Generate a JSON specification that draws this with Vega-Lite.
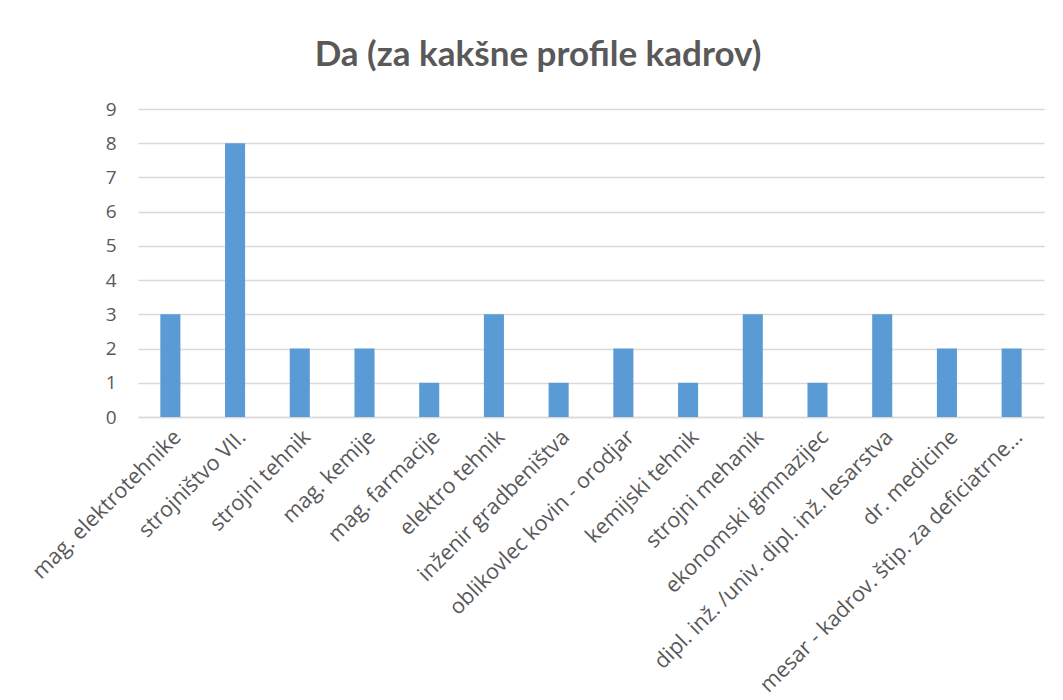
{
  "$schema": "https://vega.github.io/schema/vega-lite/v6.json",
  "autosize": {"type": "none"},
  "width": 906,
  "height": 308,
  "padding": {"left": 138, "top": 109, "right": 19, "bottom": 283},
  "background": "white",
  "title": {
    "text": "Da (za kakšne profile kadrov)",
    "font": "Lato",
    "fontSize": 35,
    "fontWeight": "bold",
    "color": "#595959",
    "anchor": "middle",
    "dx": -53,
    "offset": 27
  },
  "data": {
    "values": [
      {"profil": "mag. elektrotehnike", "n": 3},
      {"profil": "strojništvo VII.", "n": 8},
      {"profil": "strojni tehnik", "n": 2},
      {"profil": "mag. kemije", "n": 2},
      {"profil": "mag. farmacije", "n": 1},
      {"profil": "elektro tehnik", "n": 3},
      {"profil": "inženir gradbeništva", "n": 1},
      {"profil": "oblikovlec kovin - orodjar", "n": 2},
      {"profil": "kemijski tehnik", "n": 1},
      {"profil": "strojni mehanik", "n": 3},
      {"profil": "ekonomski gimnazijec", "n": 1},
      {"profil": "dipl. inž. /univ. dipl. inž. lesarstva", "n": 3},
      {"profil": "dr. medicine", "n": 2},
      {"profil": "mesar - kadrov. štip. za deficiatrne...", "n": 2}
    ]
  },
  "mark": {"type": "bar", "color": "#5b9bd5"},
  "encoding": {
    "x": {
      "field": "profil",
      "type": "nominal",
      "sort": null,
      "scale": {"paddingInner": 0.69, "paddingOuter": 0.345},
      "axis": {
        "title": null,
        "labelAngle": -45,
        "labelAlign": "right",
        "labelBaseline": "top",
        "labelFont": "Open Sans",
        "labelFontSize": 21.5,
        "labelColor": "#595959",
        "labelLimit": 500,
        "labelPadding": 9,
        "labelOverlap": false,
        "ticks": false,
        "domainColor": "#d9d9d9",
        "domainWidth": 1.5
      }
    },
    "y": {
      "field": "n",
      "type": "quantitative",
      "scale": {"domain": [0, 9]},
      "axis": {
        "title": null,
        "values": [0, 1, 2, 3, 4, 5, 6, 7, 8, 9],
        "labelOverlap": false,
        "domain": false,
        "ticks": false,
        "labelFont": "Open Sans",
        "labelFontSize": 19,
        "labelColor": "#595959",
        "labelPadding": 22,
        "gridColor": "#d9d9d9",
        "gridWidth": 1.5
      }
    }
  },
  "config": {"view": {"stroke": null}}
}
